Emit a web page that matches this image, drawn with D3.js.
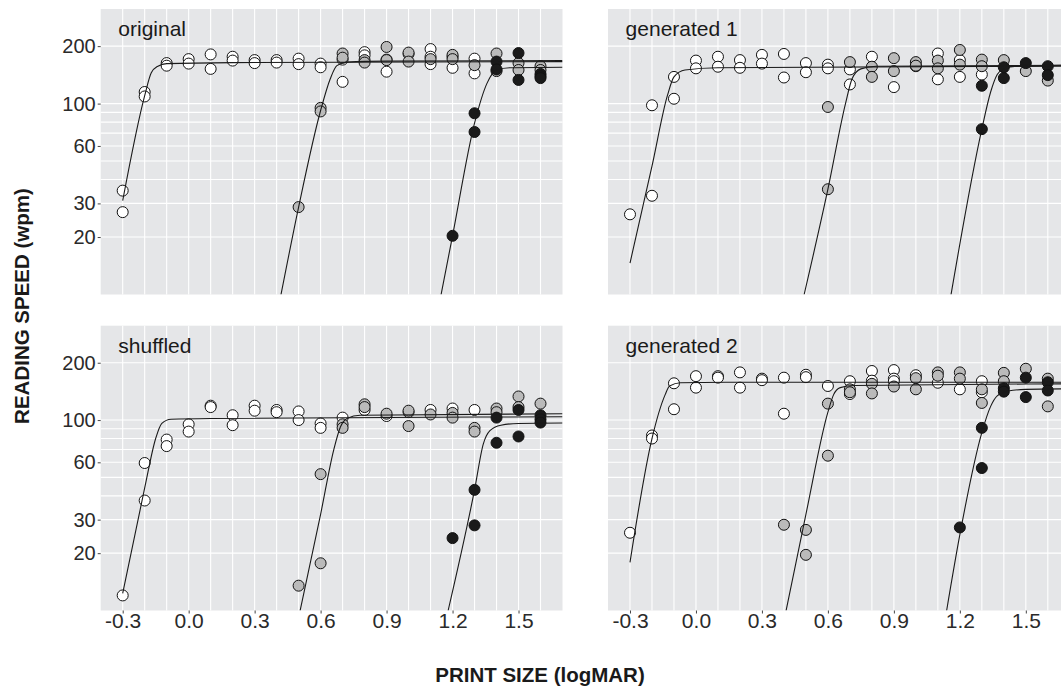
<!DOCTYPE html>
<html>
<head>
<meta charset="utf-8">
<script src="https://cdn.jsdelivr.net/npm/d3@7"></script>
<style>
body { margin: 0; background: #fff; }
text { font-family: "Liberation Sans", Arial, sans-serif; }
</style>
</head>
<body>
<div id="chart"></div>
<script>
// Axis ticks and grid
var xTicks = [-0.3, 0.0, 0.3, 0.6, 0.9, 1.2, 1.5];
var xGrid = [-0.3, -0.2, -0.1, 0.0, 0.1, 0.2, 0.3, 0.4, 0.5, 0.6, 0.7, 0.8, 0.9, 1.0, 1.1, 1.2, 1.3, 1.4, 1.5, 1.6];
var yTicks = [20, 30, 60, 100, 200];
var yGrid = [20, 30, 40, 50, 60, 70, 80, 90, 100, 200];
var panelTitles = ["original", "generated 1", "shuffled", "generated 2"];

// ---- original : [logMAR, wpm]
var originalWhite = [[-0.3,35],[-0.3,27],[-0.2,115],[-0.2,109],[-0.1,163],[-0.1,158],[0.0,171],[0.0,162],
  [0.1,181],[0.1,152],[0.2,176],[0.2,168],[0.3,169],[0.3,163],[0.4,169],[0.4,164],[0.5,172],[0.5,161],
  [0.6,162],[0.6,155],[0.7,170],[0.7,130],[0.8,186],[0.8,179],[0.9,170],[0.9,147],[1.0,182],
  [1.1,193],[1.1,176],[1.1,161],[1.2,176],[1.2,154],[1.3,172],[1.3,144]];
var originalGray = [[0.5,28.7],[0.6,95],[0.6,91],[0.7,183],[0.7,174],[0.8,169],[0.8,164],[0.9,198],[0.9,169],
  [1.0,185],[1.0,166],[1.1,171],[1.2,180],[1.2,171],[1.3,159],[1.4,183],[1.4,148],[1.5,163],[1.5,150],[1.6,157],[1.6,150]];
var originalBlack = [[1.2,20.3],[1.3,89],[1.3,71],[1.4,166],[1.4,151],[1.5,184],[1.5,133],[1.6,143],[1.6,139],[1.6,136]];
var originalWhiteFit = [[-0.3,31],[-0.2,110],[-0.17,145],[-0.14,157],[-0.1,162],[0.2,164],[1.7,166]];
var originalGrayFit = [[0.42,10],[0.5,28.7],[0.6,92],[0.644,135],[0.674,158],[0.72,165],[0.9,167],[1.7,168]];
var originalBlackFit = [[1.148,10],[1.2,20.3],[1.3,79],[1.357,128],[1.4,150],[1.46,154],[1.7,155]];

// ---- generated 1
var gen1White = [[-0.3,26.3],[-0.2,98],[-0.2,32.9],[-0.1,138],[-0.1,106],[0.0,168],[0.0,153],[0.1,176],[0.1,156],
  [0.2,169],[0.2,154],[0.3,180],[0.3,162],[0.4,182],[0.4,137],[0.5,163],[0.5,146],[0.6,160],[0.6,153],
  [0.7,151],[0.7,126],[0.8,176],[0.9,122],[1.0,157],[1.1,183],[1.1,134],[1.2,169],[1.2,138],[1.3,142]];
var gen1Gray = [[0.6,96],[0.6,35.6],[0.7,165],[0.8,156],[0.8,138],[0.9,173],[0.9,148],[1.0,165],[1.0,158],
  [1.1,168],[1.1,153],[1.2,191],[1.2,160],[1.3,170],[1.3,157],[1.4,169],[1.5,148],[1.6,132]];
var gen1Black = [[1.3,124],[1.3,73.5],[1.4,155],[1.4,136],[1.5,163],[1.6,157],[1.6,141]];
var gen1WhiteFit = [[-0.3,14.6],[-0.2,47],[-0.13,110],[-0.1,138],[-0.05,150],[0.1,154],[1.7,157]];
var gen1GrayFit = [[0.492,10],[0.6,35.6],[0.68,100],[0.71,135],[0.75,152],[0.82,157],[1.7,159]];
var gen1BlackFit = [[1.16,10],[1.3,73.5],[1.34,115],[1.37,142],[1.4,152],[1.46,157],[1.7,159]];

// ---- shuffled
var shufWhite = [[-0.3,12],[-0.2,59.5],[-0.2,37.8],[-0.1,79],[-0.1,73],[0.0,95],[0.0,87],[0.1,119],[0.1,117],
  [0.2,106],[0.2,94],[0.3,119],[0.3,112],[0.4,113],[0.4,110],[0.5,111],[0.5,100],[0.6,96],[0.6,91],
  [0.7,103],[0.8,113],[0.9,105],[1.0,110],[1.1,113],[1.2,115],[1.3,113]];
var shufGray = [[0.5,13.5],[0.6,52],[0.6,17.7],[0.7,95],[0.7,91],[0.8,121],[0.8,117],[0.9,108],[1.0,112],[1.0,93],
  [1.1,107],[1.2,109],[1.2,103],[1.3,91],[1.3,87],[1.4,115],[1.4,110],[1.5,133],[1.5,117],[1.6,122]];
var shufBlack = [[1.2,24],[1.3,43],[1.3,28],[1.4,103],[1.4,76],[1.5,113],[1.5,82],[1.6,106],[1.6,101],[1.6,97]];
var shufWhiteFit = [[-0.3,12.3],[-0.2,44],[-0.15,80],[-0.122,96],[-0.08,101],[0.1,102],[1.7,104]];
var shufGrayFit = [[0.507,10],[0.6,32],[0.66,70],[0.69,92],[0.72,102],[0.78,106],[1.7,108]];
var shufBlackFit = [[1.18,10],[1.3,43],[1.34,75],[1.37,88],[1.42,94],[1.5,96],[1.7,96.5]];

// ---- generated 2
var gen2White = [[-0.3,25.6],[-0.2,83],[-0.2,80],[-0.1,156],[-0.1,114],[0.0,170],[0.0,148],[0.1,170],[0.1,167],
  [0.2,178],[0.2,148],[0.3,165],[0.3,162],[0.4,167],[0.4,108],[0.5,173],[0.5,168],[0.6,151],[0.7,160],[0.7,137],
  [0.8,181],[0.8,161],[0.9,183],[0.9,165],[0.9,160],[1.0,172],[1.1,157],[1.2,145],[1.3,160],[1.3,140]];
var gen2Gray = [[0.4,28.2],[0.5,26.5],[0.5,19.6],[0.6,122],[0.6,65],[0.7,145],[0.7,140],[0.8,155],[0.8,138],
  [0.9,150],[1.0,166],[1.0,145],[1.1,178],[1.1,171],[1.2,178],[1.2,165],[1.3,145],[1.3,123],[1.4,177],[1.4,160],
  [1.5,186],[1.6,165],[1.6,118]];
var gen2Black = [[1.2,27.3],[1.3,91],[1.3,56],[1.4,147],[1.4,141],[1.5,167],[1.5,132],[1.6,158],[1.6,143]];
var gen2WhiteFit = [[-0.3,17.9],[-0.2,80],[-0.14,136],[-0.12,151],[-0.07,157],[0.2,158],[1.7,158]];
var gen2GrayFit = [[0.41,10],[0.5,32],[0.6,110],[0.626,136],[0.656,148],[0.72,152],[1.7,155]];
var gen2BlackFit = [[1.14,10],[1.2,25],[1.3,86],[1.34,118],[1.37,134],[1.42,142],[1.5,145],[1.7,146]];

// Layout
var width = 1061, height = 689;
var panelW = 461.8;
var colLeft = [100.7, 608];
var rows = [{top: 9, bottom: 294.5}, {top: 325.7, bottom: 610.5}];
var groupFill = ["#ffffff", "#bababa", "#1a1a1a"];

var panels = [
	{col: 0, row: 0, pts: [originalWhite, originalGray, originalBlack], fits: [originalWhiteFit, originalGrayFit, originalBlackFit]},
	{col: 1, row: 0, pts: [gen1White, gen1Gray, gen1Black], fits: [gen1WhiteFit, gen1GrayFit, gen1BlackFit]},
	{col: 0, row: 1, pts: [shufWhite, shufGray, shufBlack], fits: [shufWhiteFit, shufGrayFit, shufBlackFit]},
	{col: 1, row: 1, pts: [gen2White, gen2Gray, gen2Black], fits: [gen2WhiteFit, gen2GrayFit, gen2BlackFit]}
];

var svg = d3.select("#chart").append("svg")
	.attr("width", width)
	.attr("height", height);

panels.forEach(function(p, i){
	var left = colLeft[p.col], r = rows[p.row];
	var x = d3.scaleLinear().domain([-0.4, 1.7]).range([left, left + panelW]);
	var y = d3.scaleLog().domain([10, 313]).range([r.bottom, r.top]);

	svg.append("clipPath").attr("id", "clip" + i)
		.append("rect")
		.attr("x", left).attr("y", r.top)
		.attr("width", panelW).attr("height", r.bottom - r.top);

	var g = svg.append("g");

	// panel background
	g.append("rect")
		.attr("x", left).attr("y", r.top)
		.attr("width", panelW).attr("height", r.bottom - r.top)
		.attr("fill", "#e5e6e8");

	// grid
	g.selectAll("line.vg").data(xGrid).enter().append("line")
		.attr("x1", d => x(d)).attr("x2", d => x(d))
		.attr("y1", r.top).attr("y2", r.bottom)
		.attr("stroke", "#fff").attr("stroke-width", 1.1);
	g.selectAll("line.hg").data(yGrid).enter().append("line")
		.attr("y1", d => y(d)).attr("y2", d => y(d))
		.attr("x1", left).attr("x2", left + panelW)
		.attr("stroke", "#fff").attr("stroke-width", 1.1);

	var inner = g.append("g").attr("clip-path", "url(#clip" + i + ")");

	// points
	p.pts.forEach(function(set, k){
		inner.append("g").selectAll("circle").data(set).enter().append("circle")
			.attr("cx", d => x(d[0]))
			.attr("cy", d => y(d[1]))
			.attr("r", 5.5)
			.attr("fill", groupFill[k])
			.attr("stroke", "#111")
			.attr("stroke-width", 1);
	});

	// fitted curves, drawn over the points
	var line = d3.line()
		.x(d => x(d[0]))
		.y(d => y(d[1]))
		.curve(d3.curveMonotoneX);
	inner.selectAll("path.fit").data(p.fits).enter().append("path")
		.attr("d", line)
		.attr("fill", "none")
		.attr("stroke", "#1a1a1a")
		.attr("stroke-width", 1.1);

	// title
	g.append("text")
		.attr("x", left + 17.6).attr("y", r.top + 27)
		.attr("font-size", 21)
		.attr("fill", "#1a1a1a")
		.text(panelTitles[i]);

	// axes
	if (p.col === 0) {
		var ay = g.append("g")
			.attr("transform", "translate(" + left + ",0)")
			.call(d3.axisLeft(y).tickValues(yTicks).tickFormat(d3.format("d")).tickSize(3).tickPadding(2));
		ay.select(".domain").remove();
		ay.selectAll("line").attr("stroke", "#444");
		ay.selectAll("text").attr("font-size", 20).attr("fill", "#2a2a2a")
			.attr("font-family", "Liberation Sans, Arial, sans-serif");
	}
	if (p.row === 1) {
		var ax = g.append("g")
			.attr("transform", "translate(0," + r.bottom + ")")
			.call(d3.axisBottom(x).tickValues(xTicks).tickFormat(d => d.toFixed(1)).tickSize(3).tickPadding(0));
		ax.select(".domain").remove();
		ax.selectAll("line").attr("stroke", "#444");
		ax.selectAll("text").attr("font-size", 21).attr("fill", "#2a2a2a")
			.attr("font-family", "Liberation Sans, Arial, sans-serif");
	}
});

// axis titles
svg.append("text")
	.attr("transform", "translate(29,306) rotate(-90)")
	.attr("text-anchor", "middle")
	.attr("font-size", 20.5)
	.attr("font-weight", "bold")
	.attr("fill", "#1a1a1a")
	.text("READING SPEED (wpm)");

svg.append("text")
	.attr("x", 540).attr("y", 682)
	.attr("text-anchor", "middle")
	.attr("font-size", 20.5)
	.attr("font-weight", "bold")
	.attr("fill", "#1a1a1a")
	.text("PRINT SIZE (logMAR)");
</script>
</body>
</html>
